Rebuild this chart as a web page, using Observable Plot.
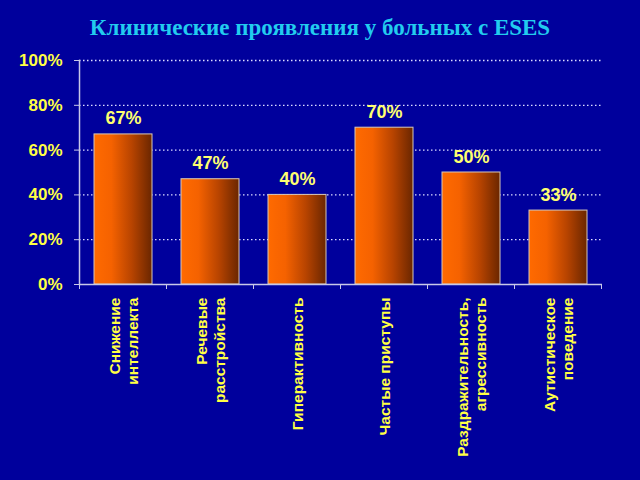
<!DOCTYPE html>
<html>
<head>
<meta charset="utf-8">
<script src="https://cdn.jsdelivr.net/npm/d3@7"></script>
<script src="https://cdn.jsdelivr.net/npm/@observablehq/plot@0.6"></script>
<style>
  html, body { margin: 0; padding: 0; background: #00009c; width: 640px; height: 480px; overflow: hidden; }
  #title { height: 44px; width: 640px; text-align: center; font-family: "Liberation Serif", "DejaVu Serif", serif; font-weight: bold; font-size: 23px; color: #22ccee; line-height: 20px; padding-top: 18px; box-sizing: border-box; }
</style>
</head>
<body>
<div id="title"></div>
<div id="chart"></div>
<script>
const title = "Клинические проявления у больных с ESES";
const categories = ["Снижение\nинтеллекта", "Речевые\nрасстройства", "Гиперактивность", "Частые приступы", "Раздражительность,\nагрессивность", "Аутистическое\nповедение"];
const values = [67, 47, 40, 70, 50, 33];
const yTicks = [0, 20, 40, 60, 80, 100];

document.getElementById("title").textContent = title;
const data = categories.map((c, i) => ({cat: c, value: values[i]}));

const defs = () => {
  const d = d3.create("svg:defs");
  const g = d.append("linearGradient").attr("id", "barGrad").attr("x1", "0").attr("x2", "1").attr("y1", "0").attr("y2", "0");
  g.append("stop").attr("offset", "0").attr("stop-color", "#ff6a00");
  g.append("stop").attr("offset", "0.3").attr("stop-color", "#f56200");
  g.append("stop").attr("offset", "0.65").attr("stop-color", "#b84400");
  g.append("stop").attr("offset", "1").attr("stop-color", "#6a2600");
  return d.node();
};

const plot = Plot.plot({
  width: 640,
  height: 436,
  marginTop: 16,
  marginBottom: 196,
  marginLeft: 79,
  marginRight: 38,
  style: {background: "#00009c", fontFamily: "'Liberation Sans', Arial, sans-serif", overflow: "visible"},
  x: {domain: categories, paddingInner: 0.33, paddingOuter: 0.165, axis: null},
  y: {domain: [0, 100], axis: null},
  marks: [
    defs,
    Plot.ruleY(yTicks.filter(d => d > 0), {stroke: "#dcdcff", strokeDasharray: "1.5,2.5", strokeWidth: 1.3}),
    Plot.barY(data, {x: "cat", y: "value", fill: "url(#barGrad)", stroke: "#d8c8b8", strokeWidth: 1}),
    Plot.ruleY([0], {stroke: "#c8c8e8", strokeWidth: 1.5}),
    Plot.frame({anchor: "left", stroke: "#c8c8e8", strokeWidth: 1.5}),
    Plot.axisY({ticks: yTicks, tickFormat: d => d + "%", label: null, tickSize: 5, tickPadding: 12, stroke: "#c8c8e8", fill: "#ffff44", fontSize: 17, fontWeight: "bold"}),
    Plot.text(data, {x: "cat", y: "value", text: d => d.value + "%", dy: -10, lineAnchor: "bottom", fill: "#ffff70", fontSize: 18, fontWeight: "bold", ariaLabel: "values"}),
    Plot.text(data, {x: "cat", text: "cat", frameAnchor: "bottom", dy: 13, rotate: -90, textAnchor: "end", lineAnchor: "middle", lineHeight: 1.12, fill: "#ffff44", fontSize: 15.5, fontWeight: "bold", ariaLabel: "xlabels"})
  ]
});
document.getElementById("chart").appendChild(plot);

d3.select(plot).selectAll("g[aria-label=values] text").style("letter-spacing", "-1.2px");
d3.select(plot).selectAll("g[aria-label=xlabels] text").style("letter-spacing", "1.6px");

// small ticks at band boundaries on x axis
const xs = plot.scale("x");
const ys = plot.scale("y");
const step = xs.step || (xs.bandwidth / (1 - 0.33));
const y0 = ys.apply(0);
const bounds = categories.map(c => xs.apply(c) - (step - xs.bandwidth) / 2).concat([xs.apply(categories[categories.length - 1]) + xs.bandwidth + (step - xs.bandwidth) / 2]);
const tg = d3.select(plot).append("g").attr("stroke", "#c8c8e8");
bounds.forEach(b => tg.append("line").attr("x1", b).attr("x2", b).attr("y1", y0).attr("y2", y0 + 5));
</script>
</body>
</html>
